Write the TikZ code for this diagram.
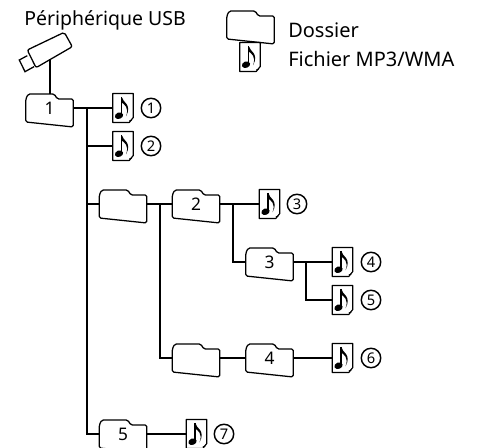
\documentclass[tikz,border=0pt]{standalone}
\usepackage{fontspec}
\setmainfont{Noto Sans}

\newcommand{\folderline}{
  \draw[line width=0.95pt, line join=round, rounded corners=1.2pt]
    (\tikzlastnode.south west) -- ++(0,-23) -- ++(2.5,-5) -- ++(26,0) -- ++(3,5) -- ++(16,0) -- ++(0,28) -- cycle;
}
\newcommand{\fileline}{
  \draw[line width=0.9pt, line join=round]
    (\tikzlastnode.north west) -- (\tikzlastnode.north east) -- ++(0,24) -- ++(-4,5) -- (\tikzlastnode.south west) -- cycle;
  \draw[line width=0.7pt] (\tikzlastnode.south east) ++(-4,-1.5) -- ++(2.5,-1);
  \begin{scope}[shift={(\tikzlastnode.center)}]
    \fill (-4,7.7) ellipse [x radius=3.2pt, y radius=2.4pt, rotate=20];
    \draw[line width=1.1pt] (-1.3,7) -- (-1.3,-10.5);
    \fill (-1.3,-11) .. controls (-0.5,-5.5) and (9.5,-4) .. (3,8.5)
      .. controls (6.5,-1) and (1,-3.5) .. (-1.3,-5.5) -- cycle;
  \end{scope}
}
\tikzset{
  folder/.style={inner sep=0pt, outer sep=0pt, minimum width=35.6pt, minimum height=21pt, font=\fontsize{13}{13}\selectfont,
    append after command={\pgfextra{\folderline}}},
  file/.style={inner sep=0pt, outer sep=0pt, minimum width=15.4pt, minimum height=21.75pt,
    append after command={\pgfextra{\fileline}}},
  track/.style={draw, circle, line width=1.1pt, inner sep=0pt, minimum size=14.6pt, font=\fontsize{11}{11}\selectfont\bfseries},
  label/.style={inner sep=0pt, anchor=west, font=\fontsize{14.6}{14.6}\selectfont},
  keylabel/.style={label, font=\fontsize{15}{15}\selectfont},
  wire/.style={line width=1.4pt}
}

\begin{document}
\begin{tikzpicture}[x=0.75pt, y=-0.75pt]
  \useasboundingbox (0,0) rectangle (485,448);

  % legend
  \node[label] (usbtext) at (24,20) {Périphérique USB};
  \node[folder] (keyfolder) at (250.5,25) {};
  \node[file] (keyfile) at (250,57) {};
  \node[keylabel] (keydir) at (288,30) {Dossier};
  \node[keylabel] (keymp3) at (288,59) {Fichier MP3/WMA};

  % usb stick
  \draw[line width=0.95pt, rounded corners=1.5pt] (27.3,50) -- (64.3,32.3) -- (72.3,46.7) -- (36,67.7) -- cycle;
  \draw[line width=0.95pt] (27.3,55.7) -- (19.3,60) -- (25,71.7) -- (34,66.7);
  \coordinate (usb) at (50,59);

  % folders
  \node[folder] (dir1) at (49.5,108) {\raisebox{-1pt}{1}};
  \node[folder] (dirA) at (123,204) {};
  \node[folder] (dir2) at (196,204) {\raisebox{-1pt}{2}};
  \node[folder] (dir3) at (269.5,262) {\raisebox{-1pt}{3}};
  \node[folder] (dirB) at (196,358) {};
  \node[folder] (dir4) at (269.5,358) {\raisebox{-1pt}{4}};
  \node[folder] (dir5) at (123,434) {\raisebox{-1pt}{5}};

  % files
  \node[file] (file1) at (123,108) {};
  \node[file] (file2) at (123,146) {};
  \node[file] (file3) at (269.5,204) {};
  \node[file] (file4) at (342.5,262) {};
  \node[file] (file5) at (342.5,300) {};
  \node[file] (file6) at (342.5,358) {};
  \node[file] (file7) at (196.5,434) {};

  \node[track] (num1) at (151,108) {1};
  \node[track] (num2) at (151,146) {2};
  \node[track] (num3) at (297,204) {3};
  \node[track] (num4) at (371,262) {4};
  \node[track] (num5) at (371,300) {5};
  \node[track] (num6) at (371,358) {6};
  \node[track] (num7) at (224,434) {7};

  % junctions
  \coordinate (fork1) at (87,108);
  \coordinate (fork2) at (160,204);
  \coordinate (fork3) at (233,204);
  \coordinate (fork4) at (306,262);

  \draw[wire] (usb) -- (dir1.north -| usb);
  \draw[wire] (dir1) -- (file1);
  \draw[wire] (fork1) |- (file2.west);
  \draw[wire] (fork1) |- (dirA.west);
  \draw[wire] (fork1) |- (dir5.west);
  \draw[wire] (dirA) -- (dir2);
  \draw[wire] (fork2) |- (dirB.west);
  \draw[wire] (dir2) -- (file3);
  \draw[wire] (fork3) |- (dir3.west);
  \draw[wire] (dir3) -- (file4);
  \draw[wire] (fork4) |- (file5.west);
  \draw[wire] (dirB) -- (dir4);
  \draw[wire] (dir4) -- (file6);
  \draw[wire] (dir5) -- (file7);
\end{tikzpicture}
\end{document}
